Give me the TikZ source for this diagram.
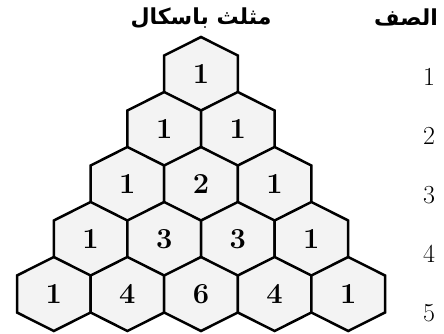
\documentclass[tikz,border=0pt]{standalone}
\usepackage{fontspec}
\newfontfamily\arabicfont[Script=Arabic]{DejaVu Sans}
\TeXXeTstate=1
\usetikzlibrary{matrix, backgrounds}
\definecolor{hexgray}{RGB}{243,243,243}
\tikzset{
  hexcell/.pic={
    \draw[line width=2.5pt, fill=hexgray] (0,37pt) -- (36.8pt,18.5pt) -- (36.8pt,-18.5pt)
      -- (0,-37pt) -- (-36.8pt,-18.5pt) -- (-36.8pt,18.5pt) -- cycle;
  },
  header/.style={font=\arabicfont\bfseries\fontsize{22}{22}\selectfont, inner sep=0pt},
  rowlabel/.style={font=\fontsize{26}{26}\selectfont, inner sep=0pt}
}

\begin{document}
\begin{tikzpicture}
      \useasboundingbox (0,0) rectangle (444pt,-334pt);
      \matrix (m) [matrix of nodes, nodes in empty cells, anchor=north, inner sep=0pt, outer sep=0pt,
        column sep=0pt, row sep=0pt,
        nodes={anchor=center, minimum width=36.8pt, minimum height=55pt, inner sep=0pt, outer sep=0pt,
          font=\fontsize{29}{29}\selectfont\bfseries}] at (201pt,-46.5pt) {
        & & & & 1 & & & & \\
        & & & 1 & & 1 & & & \\
        & & 1 & & 2 & & 1 & & \\
        & 1 & & 3 & & 3 & & 1 & \\
        1 & & 4 & & 6 & & 4 & & 1 \\
      } ;
      \begin{scope}[on background layer]
        \foreach \r in {1,...,5}
          \foreach \k in {1,...,\r} {
            \pgfmathtruncatemacro{\c}{4-\r+2*\k}
            \path (m-\r-\c.center) pic {hexcell};
          }
      \end{scope}
      \foreach \r in {1,...,5}
        \node[rowlabel] (row\r) at ({429pt},{-77pt-59pt*(\r-1)}) {\r};
      \node[header] (rowhead) at (406pt,-17pt) {\beginR الصف\endR};
      \node[header] (title) at (201pt,-18pt) {\beginR مثلث باسكال\endR};
\end{tikzpicture}
\end{document}
